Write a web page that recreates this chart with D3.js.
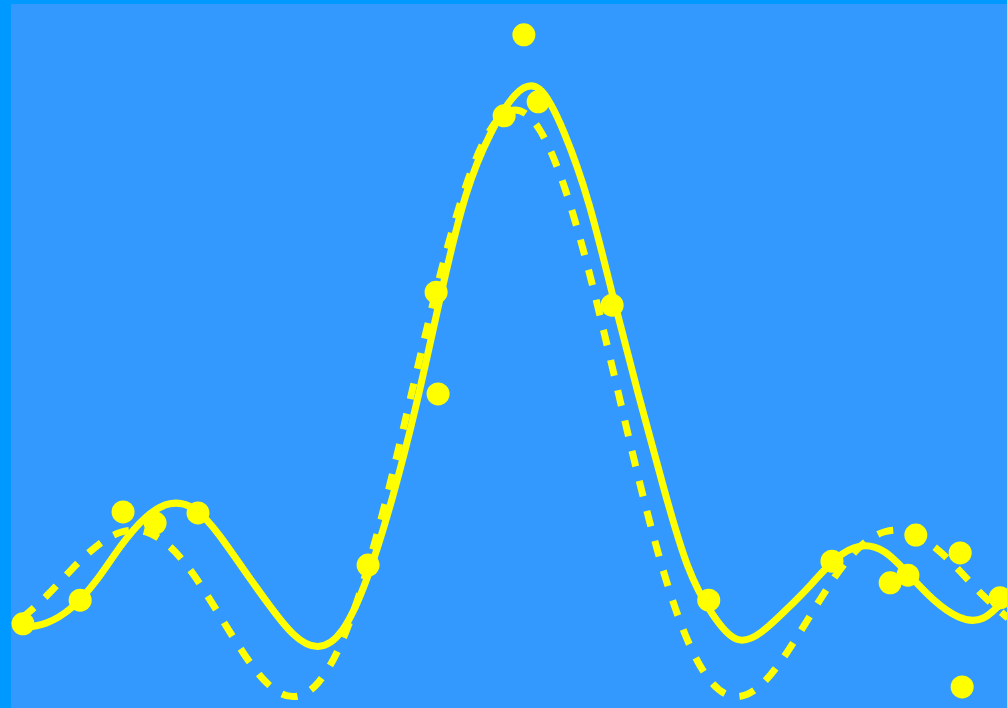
<!DOCTYPE html>
<html>
<head>
<meta charset="utf-8">
<script src="https://cdn.jsdelivr.net/npm/d3@7"></script>
<style>
  html, body { margin: 0; padding: 0; background: #0099ff; overflow: hidden; }
  svg { display: block; }
</style>
</head>
<body>
<svg id="chart" width="1007" height="708"></svg>
<script>
// Noisy samples
const sampleX = [-9.98, -8.82, -7.95, -7.30, -6.43, -2.98, -1.60, -1.56, -0.22, 0.18,
                 0.47, 1.97, 3.93, 6.43, 7.61, 7.97, 8.13, 9.03, 9.07, 9.84];
const sampleY = [-0.066, -0.017, 0.166, 0.143, 0.164, 0.056, 0.622, 0.411, 0.988, 1.156,
                 1.017, 0.595, -0.017, 0.064, 0.019, 0.035, 0.118, 0.081, -0.197, -0.012];

// Fitted curve (solid)
const fitX = [-10, -9.5, -9, -8.5, -8, -7.5, -7, -6.5, -6, -5.5, -5, -4.5, -4, -3.5,
              -3, -2.5, -2, -1.5, -1, -0.5, 0, 0.5, 1, 1.5, 2, 2.5, 3, 3.5,
              4, 4.5, 5, 5.5, 6, 6.5, 7, 7.5, 8, 8.5, 9, 9.5, 10];
const fitY = [-0.075, -0.064, -0.033, 0.023, 0.095, 0.154, 0.183, 0.172, 0.118, 0.046,
              -0.025, -0.087, -0.113, -0.079, 0.029, 0.191, 0.390, 0.618, 0.822, 0.950,
              1.031, 1.043, 0.952, 0.805, 0.608, 0.411, 0.222, 0.055, -0.045, -0.098,
              -0.083, -0.037, 0.015, 0.068, 0.095, 0.083, 0.035, -0.017, -0.052, -0.054,
              -0.008];

// Underlying function (dashed)
const trueX = [-10, -9.5, -9, -8.5, -8, -7.5, -7, -6.5, -6, -5.5, -5, -4.5, -4, -3.5,
               -3, -2.5, -2, -1.5, -1, -0.5, 0, 0.5, 1, 1.5, 2, 2.5, 3, 3.5,
               4, 4.5, 5, 5.5, 6, 6.5, 7, 7.5, 8, 8.5, 9, 9.5, 10];
const trueY = [-0.054, -0.008, 0.046, 0.094, 0.124, 0.125, 0.094, 0.033, -0.047, -0.128,
               -0.192, -0.217, -0.189, -0.100, 0.047, 0.239, 0.455, 0.665, 0.841, 0.959,
               1.000, 0.959, 0.841, 0.665, 0.455, 0.239, 0.047, -0.100, -0.189, -0.217,
               -0.192, -0.128, -0.047, 0.033, 0.094, 0.125, 0.124, 0.094, 0.046, -0.008,
               -0.054];

const W = 1007, H = 708;
const plot = { left: 11, top: 4 };

const svg = d3.select("#chart");

const x = d3.scaleLinear().domain([-10, 10]).range([22, 1008]);
const y = d3.scaleLinear().domain([0, 1]).range([592, 110]);

svg.append("defs").append("clipPath").attr("id", "plot-clip")
  .append("rect")
  .attr("x", plot.left).attr("y", plot.top)
  .attr("width", W - plot.left).attr("height", H - plot.top);

svg.append("rect")
  .attr("x", plot.left).attr("y", plot.top)
  .attr("width", W - plot.left).attr("height", H - plot.top)
  .attr("fill", "#3399ff");

const g = svg.append("g").attr("clip-path", "url(#plot-clip)");

const line = d3.line()
  .x(d => x(d[0]))
  .y(d => y(d[1]))
  .curve(d3.curveNatural);

g.append("path")
  .datum(d3.zip(trueX, trueY))
  .attr("d", line)
  .attr("fill", "none")
  .attr("stroke", "#ffff00")
  .attr("stroke-width", 7)
  .attr("stroke-dasharray", "16,15");

g.append("path")
  .datum(d3.zip(fitX, fitY))
  .attr("d", line)
  .attr("fill", "none")
  .attr("stroke", "#ffff00")
  .attr("stroke-width", 7);

g.selectAll("circle.sample")
  .data(d3.zip(sampleX, sampleY))
  .join("circle")
  .attr("class", "sample")
  .attr("cx", d => x(d[0]))
  .attr("cy", d => y(d[1]))
  .attr("r", 11.5)
  .attr("fill", "#ffff00");
</script>
</body>
</html>
